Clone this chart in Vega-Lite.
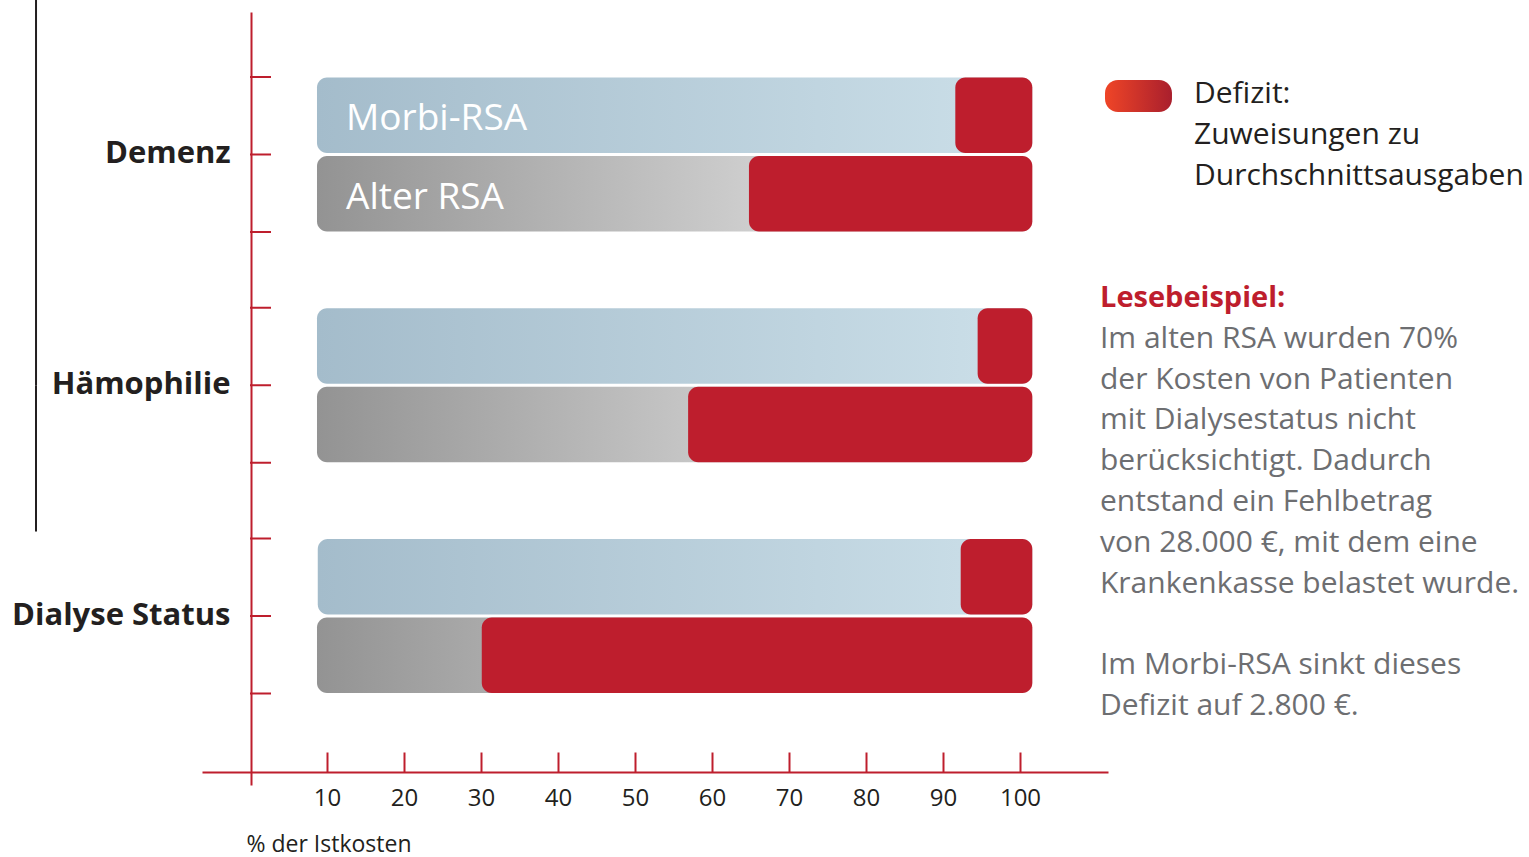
{
  "$schema": "https://vega.github.io/schema/vega-lite/v6.json",
  "width": 906,
  "height": 773,
  "autosize": {"type": "none"},
  "padding": {"left": 202, "top": 12, "right": 421, "bottom": 72},
  "background": "white",
  "config": {"view": {"stroke": null}, "font": "Open Sans"},
  "datasets": {
    "bars": [
      {"cat": "Demenz", "series": "Morbi-RSA", "start": 8.7, "end": 101.6, "deficit": 91.6},
      {"cat": "Demenz", "series": "Alter RSA", "start": 8.7, "end": 101.6, "deficit": 64.8},
      {"cat": "Hämophilie", "series": "Morbi-RSA", "start": 8.7, "end": 101.6, "deficit": 94.5},
      {"cat": "Hämophilie", "series": "Alter RSA", "start": 8.7, "end": 101.6, "deficit": 56.9},
      {"cat": "Dialyse Status", "series": "Morbi-RSA", "start": 8.8, "end": 101.6, "deficit": 92.3},
      {"cat": "Dialyse Status", "series": "Alter RSA", "start": 8.7, "end": 101.6, "deficit": 30.1}
    ],
    "cats": [
      {"cat": "Demenz"},
      {"cat": "Hämophilie"},
      {"cat": "Dialyse Status"}
    ],
    "legend": [
      {"cat": "Demenz", "label": "Defizit:\nZuweisungen zu\nDurchschnittsausgaben", "x0": 111.04, "x1": 119.74, "tx": 122.6}
    ],
    "note": [
      {"cat": "Hämophilie", "head": "Lesebeispiel:", "body": "Im alten RSA wurden 70%\nder Kosten von Patienten\nmit Dialysestatus nicht\nberücksichtigt. Dadurch\nentstand ein Fehlbetrag\nvon 28.000 €, mit dem eine\nKrankenkasse belastet wurde.", "body2": "Im Morbi-RSA sinkt dieses\nDefizit auf 2.800 €.", "tx": 110.39}
    ],
    "frame": [
      {"top": "Demenz", "mid": "Hämophilie", "bottom": "Dialyse Status", "x": -27.79}
    ]
  },
  "layer": [
    {
      "data": {"name": "bars"},
      "transform": [{"filter": "datum.series === 'Morbi-RSA'"}],
      "mark": {
        "type": "bar",
        "cornerRadius": 10,
        "fill": {
          "gradient": "linear",
          "x1": 0, "y1": 0, "x2": 1, "y2": 0,
          "stops": [
            {"offset": 0, "color": "#a4bccb"},
            {"offset": 0.9, "color": "#c8dce6"},
            {"offset": 1, "color": "#cde0e9"}
          ]
        }
      },
      "encoding": {
        "x": {
          "field": "start",
          "type": "quantitative",
          "scale": {"domain": [-6.234, 111.43], "nice": false, "zero": false},
          "axis": {
            "values": [10, 20, 30, 40, 50, 60, 70, 80, 90, 100],
            "offset": -13,
            "grid": false,
            "domainColor": "#be1e2d",
            "domainWidth": 2,
            "tickColor": "#be1e2d",
            "tickWidth": 2,
            "tickSize": -20,
            "labelPadding": 46,
            "labelFontSize": 24,
            "labelColor": "#231f20",
            "labelFont": "Open Sans",
            "labelBaseline": "middle",
            "labelDx": 2,
            "labelFlush": false,
            "title": "% der Istkosten",
            "titleX": 44,
            "titleY": 72,
            "titleAlign": "left",
            "titleBaseline": "middle",
            "titleFontSize": 23,
            "titleFontWeight": "normal",
            "titleColor": "#231f20",
            "titleFont": "Open Sans"
          }
        },
        "x2": {"field": "end"},
        "y": {
          "field": "cat",
          "type": "nominal",
          "sort": null,
          "scale": {
            "domain": ["Demenz", "Hämophilie", "Dialyse Status"],
            "paddingInner": 0.3283,
            "paddingOuter": 0.3391,
            "align": 0.4153
          },
          "axis": {
            "orient": "left",
            "offset": -49,
            "title": null,
            "domainColor": "#be1e2d",
            "domainWidth": 2,
            "ticks": false,
            "labelPadding": 21,
            "labelFontSize": 31,
            "labelFontWeight": "bold",
            "labelColor": "#231f20",
            "labelFont": "Open Sans",
            "labelLimit": 0
          }
        },
        "yOffset": {
          "field": "series",
          "type": "nominal",
          "sort": null,
          "scale": {"domain": ["Morbi-RSA", "Alter RSA"], "paddingInner": 0.04, "paddingOuter": 0.005}
        }
      }
    },
    {
      "data": {"name": "bars"},
      "transform": [{"filter": "datum.series === 'Alter RSA'"}],
      "mark": {
        "type": "bar",
        "cornerRadius": 10,
        "fill": {
          "gradient": "linear",
          "x1": 0, "y1": 0, "x2": 1, "y2": 0,
          "stops": [
            {"offset": 0, "color": "#939393"},
            {"offset": 0.6, "color": "#cdcdcd"},
            {"offset": 1, "color": "#e0e0e0"}
          ]
        }
      },
      "encoding": {
        "x": {"field": "start", "type": "quantitative"},
        "x2": {"field": "end"},
        "y": {"field": "cat", "type": "nominal", "sort": null},
        "yOffset": {"field": "series", "type": "nominal", "sort": null}
      }
    },
    {
      "data": {"name": "bars"},
      "mark": {"type": "bar", "cornerRadius": 10, "fill": "#be1e2d"},
      "encoding": {
        "x": {"field": "deficit", "type": "quantitative"},
        "x2": {"field": "end"},
        "y": {"field": "cat", "type": "nominal", "sort": null},
        "yOffset": {"field": "series", "type": "nominal", "sort": null}
      }
    },
    {
      "data": {"name": "bars"},
      "transform": [{"filter": "datum.cat === 'Demenz'"}],
      "mark": {"type": "text", "align": "left", "baseline": "middle", "fontSize": 37, "fill": "#ffffff", "font": "Open Sans", "dy": 4},
      "encoding": {
        "x": {"datum": 12.47, "type": "quantitative"},
        "y": {"field": "cat", "type": "nominal", "sort": null},
        "yOffset": {"field": "series", "type": "nominal", "sort": null},
        "text": {"field": "series"}
      }
    },
    {
      "data": {"name": "cats"},
      "mark": {"type": "rule", "color": "#be1e2d", "strokeWidth": 2},
      "encoding": {
        "x": {"datum": 0, "type": "quantitative"},
        "x2": {"datum": 2.73},
        "y": {"field": "cat", "type": "nominal", "sort": null, "bandPosition": 0}
      }
    },
    {
      "data": {"name": "cats"},
      "mark": {"type": "rule", "color": "#be1e2d", "strokeWidth": 2},
      "encoding": {
        "x": {"datum": 0, "type": "quantitative"},
        "x2": {"datum": 2.73},
        "y": {"field": "cat", "type": "nominal", "sort": null, "bandPosition": 0.5}
      }
    },
    {
      "data": {"name": "cats"},
      "mark": {"type": "rule", "color": "#be1e2d", "strokeWidth": 2},
      "encoding": {
        "x": {"datum": 0, "type": "quantitative"},
        "x2": {"datum": 2.73},
        "y": {"field": "cat", "type": "nominal", "sort": null, "bandPosition": 1}
      }
    },
    {
      "data": {"name": "frame"},
      "mark": {"type": "rule", "color": "#231f20", "strokeWidth": 2},
      "encoding": {
        "x": {"field": "x", "type": "quantitative"},
        "y": {"field": "top", "type": "nominal", "sort": null, "bandPosition": -0.497},
        "y2": {"field": "mid"}
      }
    },
    {
      "data": {"name": "frame"},
      "mark": {"type": "rule", "color": "#231f20", "strokeWidth": 2},
      "encoding": {
        "x": {"field": "x", "type": "quantitative"},
        "y": {"field": "bottom", "type": "nominal", "sort": null, "bandPosition": -0.045},
        "y2": {"field": "mid"}
      }
    },
    {
      "data": {"name": "legend"},
      "mark": {
        "type": "bar",
        "height": 32,
        "yOffset": -58.5,
        "cornerRadius": 13,
        "fill": {
          "gradient": "linear",
          "x1": 0, "y1": 0, "x2": 1, "y2": 0,
          "stops": [
            {"offset": 0, "color": "#ef4527"},
            {"offset": 1, "color": "#a91f2d"}
          ]
        }
      },
      "encoding": {
        "x": {"field": "x0", "type": "quantitative"},
        "x2": {"field": "x1"},
        "y": {"field": "cat", "type": "nominal", "sort": null}
      }
    },
    {
      "data": {"name": "legend"},
      "mark": {"type": "text", "align": "left", "baseline": "alphabetic", "lineBreak": "\n", "lineHeight": 41, "fontSize": 30, "fill": "#231f20", "font": "Open Sans", "dy": 26},
      "encoding": {
        "x": {"field": "tx", "type": "quantitative"},
        "y": {"field": "cat", "type": "nominal", "sort": null, "bandPosition": 0},
        "text": {"field": "label"}
      }
    },
    {
      "data": {"name": "note"},
      "mark": {"type": "text", "align": "left", "baseline": "alphabetic", "fontSize": 29, "fontWeight": "bold", "fill": "#be1e2d", "font": "Open Sans", "dy": -1},
      "encoding": {
        "x": {"field": "tx", "type": "quantitative"},
        "y": {"field": "cat", "type": "nominal", "sort": null, "bandPosition": 0},
        "text": {"field": "head"}
      }
    },
    {
      "data": {"name": "note"},
      "mark": {"type": "text", "align": "left", "baseline": "alphabetic", "lineBreak": "\n", "lineHeight": 40.8, "fontSize": 30, "fill": "#6d6e71", "font": "Open Sans", "dy": 40},
      "encoding": {
        "x": {"field": "tx", "type": "quantitative"},
        "y": {"field": "cat", "type": "nominal", "sort": null, "bandPosition": 0},
        "text": {"field": "body"}
      }
    },
    {
      "data": {"name": "note"},
      "mark": {"type": "text", "align": "left", "baseline": "alphabetic", "lineBreak": "\n", "lineHeight": 40.8, "fontSize": 30, "fill": "#6d6e71", "font": "Open Sans", "dy": 366.4},
      "encoding": {
        "x": {"field": "tx", "type": "quantitative"},
        "y": {"field": "cat", "type": "nominal", "sort": null, "bandPosition": 0},
        "text": {"field": "body2"}
      }
    }
  ]
}
